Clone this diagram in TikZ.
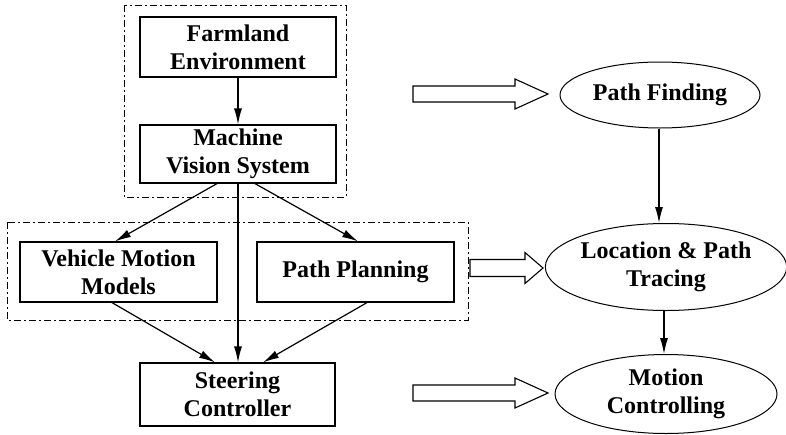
\documentclass[tikz,border=0pt]{standalone}
\usepackage{fontspec}
\setmainfont{Liberation Serif}
\usetikzlibrary{arrows.meta,shapes.geometric}
\begin{document}
\begin{tikzpicture}[x=1pt,y=-1pt,
  every node/.style={font=\bfseries\fontsize{24}{28}\selectfont, align=center, inner sep=0pt},
  box/.style={draw, line width=1.2pt, minimum width=196pt, minimum height=60pt},
  oval/.style={draw, ellipse, line width=1pt},
  grp/.style={draw, line width=1pt, dash pattern=on 7pt off 3pt on 2pt off 3pt},
  arr/.style={line width=1.2pt, -{Latex[length=16pt,width=8pt]}},
  hollow/.style={draw, line width=1.1pt, fill=white}]
\useasboundingbox (0,0) rectangle (786,434);
% groups
\draw[grp] (124,5) rectangle (346,197);
\draw[grp] (7,222) rectangle (468,320);
% boxes
\node[box] (farm) at (238,47) {Farmland\\Environment};
\node[box, minimum height=58pt] (mach) at (238,154) {Machine\\Vision System};
\node[box, minimum width=197pt] (veh) at (118.5,272) {Vehicle Motion\\Models};
\node[box, minimum width=197pt] (plan) at (355.5,272) {Path Planning};
\node[box, minimum width=195pt, minimum height=63pt] (steer) at (237.5,394.5) {Steering\\Controller};
% ellipses
\node[oval, minimum width=200pt, minimum height=66pt] (pf) at (660,95) {Path Finding};
\node[oval, minimum width=237pt, minimum height=87pt] (loc) at (666,267) {Location \& Path\\Tracing};
\node[oval, minimum width=222pt, minimum height=79pt] (mc) at (666,394) {Motion\\Controlling};
% connectors
\draw[arr] (farm.south) -- (mach.north);
\draw[arr] ([xshift=-21pt]mach.south) -- ([xshift=-3.5pt]veh.north);
\draw[arr] ([xshift=17pt]mach.south) -- ([xshift=2.5pt]plan.north);
\draw[arr] (mach.south) -- (mach.south |- steer.north);
\draw[arr] ([xshift=-6.5pt]veh.south) -- ([xshift=-22.5pt]steer.north);
\draw[arr] ([xshift=11.5pt]plan.south) -- ([xshift=25.5pt]steer.north);
\draw[arr] ([xshift=-1pt]pf.south) -- ([xshift=-1pt]pf.south |- loc.north);
\draw[arr] ([xshift=-2pt]loc.south) -- ([xshift=-2pt]mc.north);
% hollow arrows
\draw[hollow] (413,86) -- (515,86) -- (515,79) -- (548,94) -- (515,109) -- (515,102) -- (413,102) -- cycle;
\draw[hollow] (470,259.5) -- (525,259.5) -- (525,252.5) -- (543,268) -- (525,283.5) -- (525,276.5) -- (470,276.5) -- cycle;
\draw[hollow] (413,385) -- (515,385) -- (515,378) -- (548,393) -- (515,408) -- (515,401) -- (413,401) -- cycle;
\end{tikzpicture}
\end{document}
